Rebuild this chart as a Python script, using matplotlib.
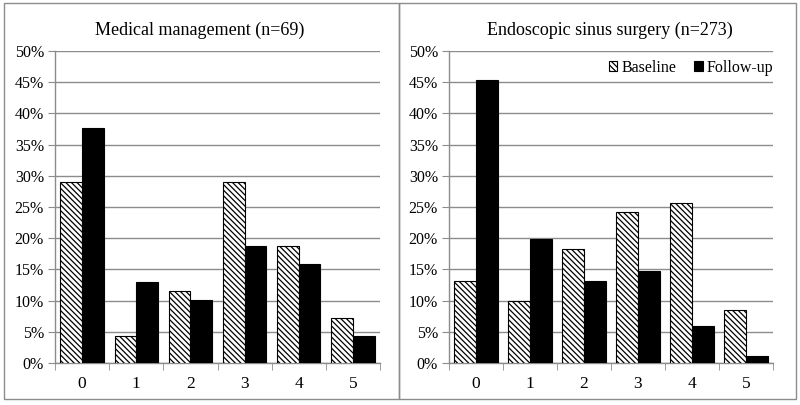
import matplotlib
matplotlib.use("Agg")
import matplotlib.pyplot as plt
from matplotlib.patches import Rectangle
import numpy as np

categories = ["0", "1", "2", "3", "4", "5"]
med_baseline = [29.0, 4.3, 11.6, 29.0, 18.8, 7.2]
med_followup = [37.7, 13.0, 10.1, 18.8, 15.9, 4.3]
ess_baseline = [13.2, 9.9, 18.3, 24.2, 25.6, 8.5]
ess_followup = [45.4, 19.8, 13.2, 14.7, 5.9, 1.1]
titles = ["Medical management (n=69)", "Endoscopic sinus surgery (n=273)"]
yticks = [0, 5, 10, 15, 20, 25, 30, 35, 40, 45, 50]
ytick_labels = [f"{v}%" for v in yticks]

plt.rcParams['font.family'] = ['Liberation Serif', 'DejaVu Serif']
plt.rcParams['hatch.linewidth'] = 0.9

W, H = 800, 405
fig = plt.figure(figsize=(8, 4.05), dpi=100)

grid_col = '#8c8c8c'
frame_col = '#8c8c8c'

def px_rect(x0, y0, x1, y1):
    return [x0 / W, 1 - y1 / H, (x1 - x0) / W, (y1 - y0) / H]

ax1 = fig.add_axes(px_rect(55, 51, 380, 363))
ax2 = fig.add_axes(px_rect(449, 51, 773, 363))

x = np.arange(len(categories))
bw = 0.4
for ax, base, fol in [(ax1, med_baseline, med_followup),
                      (ax2, ess_baseline, ess_followup)]:
    ax.bar(x - bw / 2, base, width=bw, color='white', edgecolor='black',
           hatch='\\\\\\\\\\\\', linewidth=0.8, zorder=3, label='Baseline')
    ax.bar(x + bw / 2, fol, width=bw, color='black', edgecolor='black',
           linewidth=0.8, zorder=3, label='Follow-up')
    ax.set_xlim(-0.5, len(categories) - 0.5)
    ax.set_ylim(0, 50)
    ax.set_yticks(yticks)
    ax.set_yticklabels(ytick_labels, fontsize=11.5)
    ax.set_xticks(x)
    ax.set_xticklabels(categories, fontsize=12.5)
    ax.set_xticks(np.arange(-0.5, len(categories)), minor=True)
    ax.tick_params(axis='x', which='major', length=0, pad=9)
    ax.tick_params(axis='x', which='minor', length=5, color=grid_col, direction='out')
    ax.tick_params(axis='y', length=5, color=grid_col, direction='out', pad=3)
    ax.yaxis.grid(True, color=grid_col, linewidth=1)
    ax.set_axisbelow(True)
    for s in ['top', 'right']:
        ax.spines[s].set_visible(False)
    for s in ['left', 'bottom']:
        ax.spines[s].set_color(grid_col)
        ax.spines[s].set_linewidth(1)

fig.text(200 / W, 1 - 30 / H, titles[0], ha='center', va='center', fontsize=13)
fig.text(610 / W, 1 - 30 / H, titles[1], ha='center', va='center', fontsize=13)

leg = ax2.legend(loc='upper right', bbox_to_anchor=(1.03, 1.003), ncol=2, frameon=False,
                 fontsize=11.5, handlelength=0.55, handleheight=0.55, handletextpad=0.25,
                 columnspacing=1.1, borderaxespad=0.2)

# panel frames
fig.patches.append(Rectangle((4 / W, 1 - 399 / H), (399 - 4) / W, (399 - 3) / H,
                             transform=fig.transFigure, fill=False,
                             edgecolor=frame_col, linewidth=1))
fig.patches.append(Rectangle((399 / W, 1 - 399 / H), (796 - 399) / W, (399 - 3) / H,
                             transform=fig.transFigure, fill=False,
                             edgecolor=frame_col, linewidth=1))

fig.savefig("out.png", dpi=100)
